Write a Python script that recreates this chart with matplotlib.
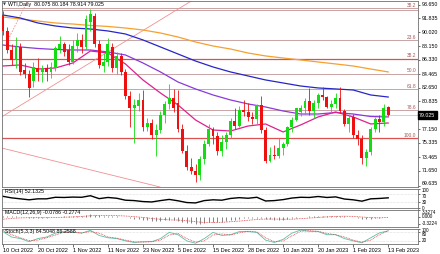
import matplotlib
matplotlib.use('Agg')
import matplotlib.pyplot as plt
import matplotlib.transforms as mtrans
import numpy as np

# ---------------- data ----------------
opens = [92.3, 90.2, 87.6, 86.3, 88.0, 85.0, 84.5, 83.5, 85.3, 84.8,
         85.2, 84.7, 85.3, 87.8, 88.4, 87.6, 86.1, 88.2, 89.0, 88.1,
         91.4, 92.2, 88.4, 85.5, 86.1, 88.1, 85.2, 86.8, 84.8, 81.6,
         80.0, 80.2, 81.0, 77.4, 78.0, 76.4, 77.0, 79.0, 80.5, 81.3,
         80.6, 77.2, 74.3, 72.2, 71.6, 71.1, 73.2, 75.2, 77.2, 76.2,
         74.3, 75.4, 76.4, 78.3, 77.6, 79.7, 79.4, 78.8, 78.5, 80.3,
         77.0, 73.0, 73.7, 73.6, 74.7, 75.2, 77.4, 78.4, 79.4, 80.0,
         80.9, 79.6, 80.6, 81.7, 81.4, 80.1, 80.5, 81.3, 79.6, 77.9,
         78.8, 76.4, 75.9, 73.4, 74.2, 77.2, 78.5, 78.1, 80.075]
highs = [92.8, 90.7, 88.4, 89.4, 88.6, 85.9, 85.0, 86.0, 86.6, 85.6,
         85.8, 86.0, 88.2, 89.5, 88.7, 88.4, 89.0, 89.9, 89.8, 92.3,
         93.1, 92.6, 89.0, 87.2, 89.3, 88.6, 87.4, 87.3, 85.1, 82.2,
         81.2, 82.0, 82.4, 78.6, 78.5, 77.9, 79.6, 80.9, 83.2, 82.5,
         82.4, 77.8, 75.0, 73.3, 72.6, 73.6, 75.7, 77.9, 77.4, 76.8,
         76.4, 76.8, 78.6, 80.0, 80.2, 81.0, 80.6, 79.5, 80.5, 81.5,
         77.4, 74.8, 75.0, 76.0, 75.5, 77.6, 78.8, 80.0, 80.4, 81.3,
         82.6, 81.0, 82.0, 82.7, 81.6, 81.0, 81.9, 82.7, 79.8, 79.2,
         79.2, 77.0, 76.4, 74.6, 77.5, 78.8, 79.0, 80.5, 80.184]
lows = [89.6, 87.2, 85.7, 85.2, 84.4, 83.9, 81.4, 82.8, 83.6, 83.4,
        83.6, 84.0, 84.9, 87.2, 86.9, 85.6, 85.8, 87.4, 87.2, 87.8,
        90.2, 88.0, 85.2, 84.8, 85.5, 84.8, 84.5, 84.4, 81.2, 77.4,
        75.3, 79.6, 76.9, 76.9, 75.8, 73.6, 76.6, 78.0, 79.8, 79.4,
        76.8, 74.0, 71.8, 71.2, 70.1, 70.4, 72.6, 74.9, 75.2, 73.7,
        73.6, 74.6, 76.0, 77.2, 77.4, 78.9, 78.3, 77.8, 77.9, 76.7,
        72.7, 72.8, 73.2, 73.3, 73.7, 74.9, 76.8, 78.2, 78.9, 79.2,
        79.0, 78.6, 80.0, 81.0, 79.9, 79.3, 80.0, 79.3, 77.6, 76.8,
        76.0, 75.1, 72.6, 72.3, 73.8, 76.8, 76.8, 77.6, 78.914]
closes = [90.2, 87.6, 86.3, 88.0, 84.7, 84.5, 82.6, 85.4, 84.8, 85.2,
          84.7, 85.4, 87.9, 88.4, 87.4, 86.1, 88.2, 89.0, 88.1, 91.8,
          92.4, 88.4, 85.6, 86.1, 88.5, 85.2, 86.8, 84.8, 81.6, 80.0,
          80.3, 81.0, 77.4, 78.0, 76.4, 77.0, 79.0, 80.5, 81.3, 79.9,
          77.2, 74.3, 72.2, 71.6, 71.1, 73.2, 75.2, 77.2, 76.2, 74.3,
          75.4, 76.4, 78.3, 77.6, 79.7, 79.4, 78.8, 78.5, 80.3, 77.0,
          73.0, 73.7, 73.6, 74.7, 75.2, 77.4, 78.4, 79.9, 80.0, 80.9,
          79.6, 80.6, 81.7, 81.4, 80.1, 80.5, 81.3, 79.6, 77.9, 78.7,
          76.4, 75.9, 73.4, 74.2, 77.2, 78.5, 78.1, 80.0, 79.025]

# moving averages, read every 4th bar
ma_orange = [92.02, 91.76, 91.49, 91.23, 91.09, 90.90, 90.77, 90.56, 90.30, 89.90,
             89.37, 88.71, 88.18, 87.78, 87.25, 86.86, 86.59, 86.33, 86.06, 85.80,
             85.53, 85.13, 84.74]
ma_blue = [92.29, 91.89, 91.23, 90.83, 90.56, 90.43, 90.17, 89.77, 88.98, 88.05,
           87.12, 86.19, 85.40, 84.74, 84.21, 83.68, 83.28, 82.88, 82.62, 82.49,
           82.35, 81.69, 81.42]
ma_purple = [88.31, 88.05, 87.85, 87.72, 87.65, 87.65, 87.39, 86.99, 85.93, 84.74,
             83.41, 82.49, 81.69, 81.03, 80.50, 80.10, 79.57, 79.17, 79.17, 79.37,
             79.17, 78.84, 78.78]
ma_magenta = [85.53, 85.67, 85.13, 85.27, 85.93, 87.52, 87.25, 85.80, 83.68, 81.95,
              80.37, 78.38, 77.05, 76.92, 77.58, 77.85, 76.79, 77.72, 78.78, 79.44,
              78.78, 77.85, 77.98]

fib_levels = [92.95, 88.98, 86.50, 84.50, 82.49, 79.64, 76.00]
fib_labels = [None, "23.6", "38.2", "50.0", "61.8", "78.6", "100.0"]
top_level = 93.21
top_label = "38.2"
last_price = 79.025

price_ticks = [93.650, 91.835, 90.020, 88.150, 86.330, 84.465, 82.650, 80.835,
               77.150, 75.335, 73.465, 71.650, 69.635]

# indicator values, read every 2nd bar (MACD main: every bar)
rsi = [60, 52, 47, 42, 47, 47, 55, 54, 56, 55, 63, 48, 54, 50, 40, 38, 33, 31, 38,
       44, 37, 28, 26, 38, 42, 40, 49, 53, 50, 55, 36, 38, 43, 51, 55, 54, 59, 54,
       57, 46, 42, 35, 47, 49, 52.13]
macd_main = [0.6, 0.5, 0.3, 0.3, 0.0, -0.1, -0.4, -0.4, -0.4, -0.4, -0.4, -0.3, -0.1, 0.1,
             0.2, 0.2, 0.3, 0.5, 0.6, 0.9, 1.2, 1.1, 0.8, 0.6, 0.6, 0.4, 0.3, 0.1, -0.3,
             -0.7, -0.9, -1.0, -1.4, -1.6, -1.9, -2.0, -2.0, -1.8, -1.6, -1.6, -1.9, -2.3,
             -2.8, -3.2, -3.4, -3.4, -3.1, -2.7, -2.5, -2.5, -2.3, -2.0, -1.6, -1.4, -1.0,
             -0.8, -0.7, -0.6, -0.4, -0.5, -1.0, -1.3, -1.5, -1.5, -1.4, -1.1, -0.8, -0.4,
             -0.2, 0.1, 0.2, 0.3, 0.5, 0.6, 0.6, 0.6, 0.6, 0.5, 0.2, 0.1, -0.2, -0.5, -0.9,
             -1.1, -0.9, -0.6, -0.5, -0.2, -0.08]
macd_signal = [-1.2, -0.8, -0.5, -0.4, -0.4, -0.4, -0.35, -0.2, -0.05, 0.2, 0.5, 0.7, 0.7,
               0.6, 0.4, 0.1, -0.3, -0.8, -1.2, -1.5, -1.6, -1.9, -2.4, -2.8, -2.8, -2.7,
               -2.4, -2.1, -1.7, -1.3, -1.1, -1.1, -1.2, -1.2, -0.9, -0.6, -0.3, 0.0, 0.2,
               0.3, 0.2, -0.1, -0.4, -0.5, -0.28]
stoch_main = [80, 45, 35, 15, 35, 45, 70, 80, 75, 70, 88, 55, 40, 35, 20, 10, 15, 15, 35,
              75, 60, 20, 5, 35, 75, 55, 60, 80, 80, 75, 25, 10, 30, 70, 90, 82, 80, 60,
              60, 35, 20, 8, 40, 72, 84.50]
stoch_signal = [88, 60, 40, 22, 25, 40, 58, 76, 78, 72, 80, 70, 45, 38, 25, 14, 12, 15, 25,
                58, 68, 35, 12, 20, 58, 65, 58, 72, 82, 78, 40, 15, 20, 52, 82, 86, 82, 68,
                60, 45, 25, 12, 25, 60, 86.26]

date_labels = ["10 Oct 2022", "20 Oct 2022", "1 Nov 2022", "11 Nov 2022", "23 Nov 2022",
               "5 Dec 2022", "15 Dec 2022", "28 Dec 2022", "10 Jan 2023", "20 Jan 2023",
               "1 Feb 2023", "13 Feb 2023"]

title = "WTI,Daily  80.075 80.184 78.914 79.025"
rsi_title = "RSI(14) 52.1325"
macd_title = "MACD(12,26,9) -0.0786 -0.2774"
stoch_title = "Stoch(5,3,3) 84.5048 86.2588"

# ---------------- figure ----------------
plt.rcParams['font.family'] = ['Liberation Sans', 'DejaVu Sans']
FS = 3.8
FS_IND = 3.3
W, H = 440, 254
fig = plt.figure(figsize=(4.4, 2.54), dpi=100, facecolor='white')


def ax_px(x0, y0, x1, y1):
    return fig.add_axes([x0 / W, 1 - y1 / H, (x1 - x0) / W, (y1 - y0) / H])


ax = ax_px(1.5, 1, 418, 187)
ax_rsi = ax_px(1.5, 188.5, 418, 208)
ax_macd = ax_px(1.5, 209.5, 418, 227)
ax_st = ax_px(1.5, 228.5, 418, 244)

n = len(closes)
idx = np.arange(n)
XMIN, XMAX = -0.3, 94.8
spine_c = '#707070'
for a in (ax, ax_rsi, ax_macd, ax_st):
    a.set_xlim(XMIN, XMAX)
    a.set_facecolor('white')
    for s in a.spines.values():
        s.set_color(spine_c)
        s.set_linewidth(0.6)
    a.yaxis.tick_right()
    a.tick_params(axis='y', labelsize=FS, length=1.5, width=0.4, pad=1.5, colors='black')
    a.tick_params(axis='x', bottom=False, labelbottom=False)
for a in (ax_rsi, ax_macd, ax_st):
    a.tick_params(axis='y', labelsize=FS_IND)


def set_vas(a, vas):
    for t, va in zip(a.get_yticklabels(), vas):
        t.set_va(va)


# ---- main chart ----
ax.set_ylim(69.50, 94.14)
o = np.array(opens); h = np.array(highs); l = np.array(lows); c = np.array(closes)
up = c >= o
GREEN, RED = '#14dc14', '#ee1010'
cols = np.where(up, GREEN, RED)

# Fibonacci & horizontal levels
fib_light, fib_red = '#c9a3a3', '#dd5050'
ax.axhline(top_level, color=fib_light, lw=0.7, zorder=1)
for lev, lab in zip(fib_levels, fib_labels):
    strong = lab in ("38.2", "100.0")
    ax.axhline(lev, color=fib_red if strong else fib_light, lw=0.9 if strong else 0.7, zorder=1)
trans_fib = mtrans.blended_transform_factory(ax.transAxes, ax.transData)
for lev, lab in list(zip(fib_levels, fib_labels)) + [(top_level, top_label)]:
    if lab:
        ax.text(0.9955, lev + 0.05, lab, transform=trans_fib, ha='right', va='bottom',
                fontsize=FS - 0.3, color='#a05a5a')
ax.axhline(last_price, color='#c8c8c8', lw=0.6, zorder=1)

# trend lines
tl_up = ([-0.3, 43.4], [78.78, 94.27])
tl_dn = ([-0.3, 35.9], [74.67, 69.50])
tl_dot = ([1.2, 5.75], [89.0, 94.27])
ax.plot(*tl_up, color='#f09090', lw=0.6, zorder=1)
ax.plot(*tl_dn, color='#f09090', lw=0.6, zorder=1)
ax.plot(*tl_dot, color='#f09090', lw=0.6, ls=(0, (2, 1.5)), zorder=1)

# moving averages
ma_x = np.arange(0, n, 4)
ax.plot(ma_x, ma_orange, color='#f5a030', lw=0.9, zorder=2)
ax.plot(ma_x, ma_blue, color='#2626c8', lw=0.9, zorder=2)
ax.plot(ma_x, ma_purple, color='#8a3ad8', lw=0.9, zorder=2)
ax.plot(ma_x, ma_magenta, color='#e0208c', lw=0.9, zorder=2)

# candles
ax.vlines(idx, l, h, colors=cols, lw=0.6, zorder=3)
ax.bar(idx, np.maximum(np.abs(c - o), 0.08), bottom=np.minimum(o, c), width=0.66,
       color=cols, linewidth=0, zorder=4)

ax.set_yticks(price_ticks)
ax.set_yticklabels([f"{v:.3f}" for v in price_ticks])
set_vas(ax, ['center'] * (len(price_ticks) - 1) + ['bottom'])
ax.text(1.003, last_price, f"{last_price:.3f}", transform=trans_fib, ha='left', va='center',
        fontsize=FS, color='white',
        bbox=dict(boxstyle='square,pad=0.25', facecolor='black', edgecolor='black'))

fig.text(3 / W, 1 - 4.5 / H, '\u25BC', fontsize=2.8, color='#404040', va='center', ha='left',
         family='DejaVu Sans')
fig.text(8 / W, 1 - 4.5 / H, title, fontsize=FS, color='black', va='center', ha='left')

# ---- RSI ----
ind_x = np.arange(0, n, 2)
ax_rsi.set_ylim(0, 100)
for lv in (70, 30):
    ax_rsi.axhline(lv, color='#c0c0c0', lw=0.4, ls=(0, (1, 1.5)))
ax_rsi.plot(ind_x, rsi, color='black', lw=1.0)
ax_rsi.set_yticks([100, 70, 30, 0])
ax_rsi.set_yticklabels(['100', '70', '30', '0'])
set_vas(ax_rsi, ['top', 'top', 'center', 'center'])
ax_rsi.text(0.008, 0.84, rsi_title, transform=ax_rsi.transAxes, fontsize=FS, va='center')

# ---- MACD ----
ax_macd.set_ylim(-5.0, 3.6)
ax_macd.vlines(idx, 0, macd_main, color='#707070', lw=0.6)
ax_macd.plot(ind_x, macd_signal, color='#e04040', lw=0.6, ls=(0, (1, 1)))
ax_macd.set_yticks([3.3274, 0.0, -3.3224])
ax_macd.set_yticklabels(['3.3274', '0.000', '-3.3224'])
set_vas(ax_macd, ['top', 'center', 'center'])
ax_macd.text(0.008, 0.82, macd_title, transform=ax_macd.transAxes, fontsize=FS, va='center')

# ---- Stochastic ----
ax_st.set_ylim(0, 100)
for lv in (80, 20):
    ax_st.axhline(lv, color='#c0c0c0', lw=0.4, ls=(0, (1, 1.5)))
ax_st.plot(ind_x, stoch_main, color='#5fbfa8', lw=0.6)
ax_st.plot(ind_x, stoch_signal, color='#e04040', lw=0.6, ls=(0, (1, 1)))
ax_st.set_yticks([100, 80, 20])
ax_st.set_yticklabels(['100', '80', '20'])
set_vas(ax_st, ['top', 'top', 'center'])
ax_st.text(0.008, 0.8, stoch_title, transform=ax_st.transAxes, fontsize=FS, va='center')

ax_st.set_xticks(np.arange(0, n, 8))
ax_st.set_xticklabels(date_labels)
ax_st.tick_params(axis='x', bottom=True, labelbottom=True, labelsize=FS + 0.2, length=2,
                  width=0.4, pad=1, colors='black')
for t in ax_st.get_xticklabels():
    t.set_ha('left')

fig.savefig('out.png', dpi=100, facecolor='white')
